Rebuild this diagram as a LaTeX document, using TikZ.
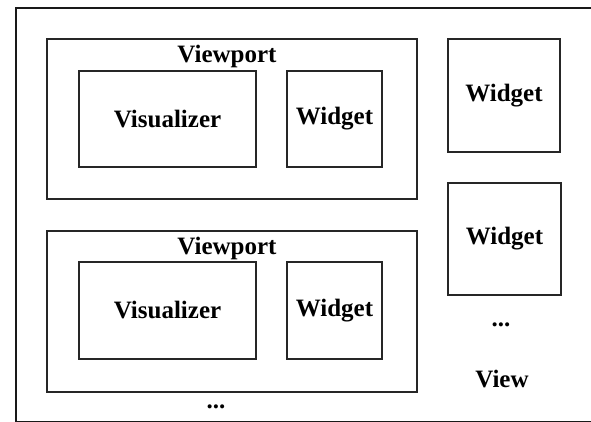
\documentclass[tikz,border=0pt]{standalone}
\usepackage{fontspec}
\setmainfont{Liberation Serif}
\begin{document}
\begin{tikzpicture}[x=1pt,y=-1pt,
  box/.style={draw=black!85, line width=1.2pt, inner sep=0pt, align=center,
    font=\fontsize{25}{27}\selectfont\bfseries},
  lbl/.style={font=\fontsize{25}{27}\selectfont\bfseries, inner sep=0pt}]
\useasboundingbox (0,0) rectangle (591,422);
% outer view frame
\node[draw=black!90, line width=1.8pt, minimum width=600pt, minimum height=414pt, anchor=north west] (view) at (15,7) {};
% viewport 1
\node[box, minimum width=370pt, minimum height=160pt] (vp1) at (232,119) {};
\node[lbl] (vp1l) at (227,56) {Viewport};
\node[box, minimum width=177pt, minimum height=96pt] (vis1) at (167.5,119) {Visualizer};
\node[box, minimum width=95pt, minimum height=96pt] (w1) at (334.5,119) {Widget};
% viewport 2
\node[box, minimum width=370pt, minimum height=161pt] (vp2) at (232,311.5) {};
\node[lbl] (vp2l) at (227,248) {Viewport};
\node[box, minimum width=177pt, minimum height=97pt] (vis2) at (167.5,310.5) {Visualizer};
\node[box, minimum width=95pt, minimum height=97pt] (w2) at (334.5,310.5) {Widget};
\node[lbl] (dots1) at (216,407) {...};
% right widgets
\node[box, minimum width=112pt, minimum height=113pt] (w3) at (504,95.5) {Widget};
\node[box, minimum width=113pt, minimum height=112pt] (w4) at (504.5,239) {Widget};
\node[lbl] (dots2) at (501,325) {...};
\node[lbl] (viewl) at (502,379) {View};
\end{tikzpicture}
\end{document}
